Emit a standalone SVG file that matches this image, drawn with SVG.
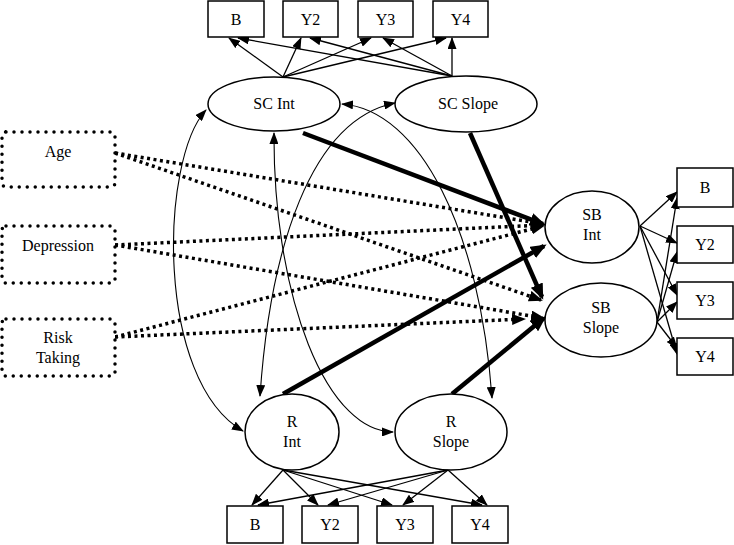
<svg xmlns="http://www.w3.org/2000/svg" width="734" height="545" viewBox="0 0 734 545">
<defs>
<style>
.box{fill:#fff;stroke:#000;stroke-width:1.5}
.dbox{fill:#fff;stroke:#000;stroke-width:3.5;stroke-dasharray:0 8;stroke-linecap:round}
.ell{fill:#fff;stroke:#000;stroke-width:1.5}
.t{font-family:'Liberation Serif','Times New Roman','DejaVu Serif',Times,serif;font-size:16px;fill:#000;text-anchor:middle}
.thin{fill:none;stroke:#000;stroke-width:1.3;marker-end:url(#ah)}
.curve{fill:none;stroke:#000;stroke-width:1.1;marker-start:url(#ah);marker-end:url(#ah)}
.thick{fill:none;stroke:#000;stroke-width:4.5;marker-end:url(#ahT)}
.dot{fill:none;stroke:#000;stroke-width:3.5;stroke-dasharray:3 3.5;marker-end:url(#ahD)}
</style>
<marker id="ah" markerUnits="userSpaceOnUse" viewBox="0 0 12 9" refX="11" refY="4.5" markerWidth="12" markerHeight="9" orient="auto-start-reverse"><path d="M0,0 L12,4.5 L0,9 z" fill="#000"/></marker>
<marker id="ahT" markerUnits="userSpaceOnUse" viewBox="0 0 16 13" refX="13" refY="6.5" markerWidth="16" markerHeight="13" orient="auto"><path d="M0,0 L16,6.5 L0,13 z" fill="#000"/></marker>
<marker id="ahD" markerUnits="userSpaceOnUse" viewBox="0 0 14 11" refX="12" refY="5.5" markerWidth="14" markerHeight="11" orient="auto"><path d="M0,0 L14,5.5 L0,11 z" fill="#000"/></marker>
</defs>
<rect width="734" height="545" fill="#fff"/>

<g id="connectors">
<path class="thin" d="M283,77 L229,38"/>
<path class="thin" d="M283,77 L301,38"/>
<path class="thin" d="M283,77 L371,38"/>
<path class="thin" d="M283,77 L446,38"/>
<path class="thin" d="M452,76 L238,38"/>
<path class="thin" d="M452,76 L310,38"/>
<path class="thin" d="M452,76 L383,38"/>
<path class="thin" d="M452,76 L452,38"/>
<path class="thin" d="M640,226 L677,192"/>
<path class="thin" d="M640,226 L677,243"/>
<path class="thin" d="M640,226 L677,295"/>
<path class="thin" d="M640,226 L677,354"/>
<path class="thin" d="M657,322 L677,198"/>
<path class="thin" d="M657,322 L677,252"/>
<path class="thin" d="M657,322 L677,302"/>
<path class="thin" d="M657,322 L677,348"/>
<path class="thin" d="M283,470 L252,505"/>
<path class="thin" d="M283,470 L318,505"/>
<path class="thin" d="M283,470 L392,505"/>
<path class="thin" d="M283,470 L482,505"/>
<path class="thin" d="M448,470 L258,505"/>
<path class="thin" d="M448,470 L328,505"/>
<path class="thin" d="M448,470 L403,505"/>
<path class="thin" d="M448,470 L487,505"/>
<path class="curve" d="M206,110 C160,160 155,380 243,431"/>
<path class="curve" d="M274,133 A119,295 0 0 0 393,432"/>
<path class="curve" d="M260,396 C270,250 310,120 395,103"/>
<path class="curve" d="M342,104 C420,110 480,230 492,398"/>
<path class="dot" d="M115,153 L543,224"/>
<path class="dot" d="M115,153 L541,300"/>
<path class="dot" d="M115,245 L543,225"/>
<path class="dot" d="M115,245 L543,318"/>
<path class="dot" d="M115,337 L543,226"/>
<path class="dot" d="M115,337 L524,319"/>
<path class="thick" d="M303,133 L543,224"/>
<path class="thick" d="M470,133 L542,297"/>
<path class="thick" d="M283,394 L544,246"/>
<path class="thick" d="M452,394 L544,318"/>
</g>

<g id="B_top"><rect class="box" x="208" y="1" width="56" height="36"/><text class="t" x="236" y="25">B</text></g>
<g id="Y2_top"><rect class="box" x="283" y="1" width="55" height="36"/><text class="t" x="310.5" y="25">Y2</text></g>
<g id="Y3_top"><rect class="box" x="358" y="1" width="55" height="36"/><text class="t" x="385.5" y="25">Y3</text></g>
<g id="Y4_top"><rect class="box" x="433" y="1" width="55" height="36"/><text class="t" x="460.5" y="25">Y4</text></g>

<g id="SC_Int"><ellipse class="ell" cx="274" cy="104" rx="66" ry="27"/><text class="t" x="274" y="109">SC Int</text></g>
<g id="SC_Slope"><ellipse class="ell" cx="466" cy="104" rx="71" ry="28"/><text class="t" x="468" y="109">SC Slope</text></g>

<g id="Age"><rect class="dbox" x="2" y="132" width="113" height="55" rx="4"/><text class="t" x="58" y="157">Age</text></g>
<g id="Depression"><rect class="dbox" x="2" y="226" width="113" height="57" rx="4"/><text class="t" x="58" y="251">Depression</text></g>
<g id="Risk_Taking"><rect class="dbox" x="2" y="319" width="113" height="57" rx="4"/><text class="t" x="58" y="343">Risk</text><text class="t" x="58" y="363">Taking</text></g>

<g id="SB_Int"><ellipse class="ell" cx="592" cy="227" rx="47" ry="36"/><text class="t" x="592" y="220">SB</text><text class="t" x="592" y="240">Int</text></g>
<g id="SB_Slope"><ellipse class="ell" cx="601" cy="320" rx="56" ry="37"/><text class="t" x="601" y="313">SB</text><text class="t" x="601" y="333">Slope</text></g>

<g id="B_right"><rect class="box" x="677" y="168" width="56" height="39"/><text class="t" x="705" y="193">B</text></g>
<g id="Y2_right"><rect class="box" x="677" y="226" width="56" height="37"/><text class="t" x="705" y="250">Y2</text></g>
<g id="Y3_right"><rect class="box" x="677" y="282" width="56" height="37"/><text class="t" x="705" y="306">Y3</text></g>
<g id="Y4_right"><rect class="box" x="677" y="338" width="56" height="37"/><text class="t" x="705" y="362">Y4</text></g>

<g id="R_Int"><ellipse class="ell" cx="292" cy="432" rx="47" ry="38"/><text class="t" x="292" y="427">R</text><text class="t" x="292" y="447">Int</text></g>
<g id="R_Slope"><ellipse class="ell" cx="451" cy="432" rx="56" ry="38"/><text class="t" x="451" y="427">R</text><text class="t" x="451" y="447">Slope</text></g>

<g id="B_bottom"><rect class="box" x="227" y="506" width="56" height="37"/><text class="t" x="255" y="530">B</text></g>
<g id="Y2_bottom"><rect class="box" x="302" y="506" width="56" height="37"/><text class="t" x="330" y="530">Y2</text></g>
<g id="Y3_bottom"><rect class="box" x="377" y="506" width="56" height="37"/><text class="t" x="405" y="530">Y3</text></g>
<g id="Y4_bottom"><rect class="box" x="452" y="506" width="56" height="37"/><text class="t" x="480" y="530">Y4</text></g>
</svg>
